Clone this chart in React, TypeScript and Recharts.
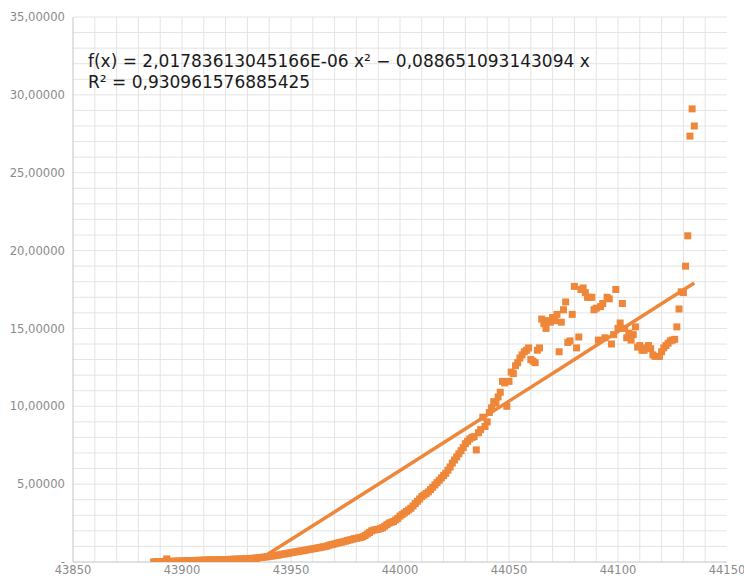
import React from "react";
import {
  ScatterChart,
  Scatter,
  XAxis,
  YAxis,
  ReferenceLine,
} from "recharts";

// First day (x) of the daily series
const START_DAY = 43887;

// Daily observed values, one per day starting at START_DAY
const seriesValues: number[] = [
  0.01, 0.01, 0.02, 0.02, 0.03, 0.03, 0.2, 0.04, 0.04, 0.05,
  0.05, 0.06, 0.06, 0.07, 0.07, 0.08, 0.08, 0.09, 0.09, 0.1,
  0.1, 0.11, 0.11, 0.12, 0.12, 0.13, 0.13, 0.14, 0.1, 0.14,
  0.15, 0.15, 0.16, 0.16, 0.12, 0.17, 0.17, 0.18, 0.18, 0.19,
  0.19, 0.2, 0.2, 0.21, 0.22, 0.23, 0.24, 0.25, 0.27, 0.29,
  0.3, 0.32, 0.34, 0.36, 0.38, 0.4, 0.42, 0.44, 0.47, 0.5,
  0.52, 0.54, 0.57, 0.6, 0.62, 0.65, 0.67, 0.7, 0.72, 0.74,
  0.77, 0.8, 0.82, 0.85, 0.87, 0.9, 0.92, 0.95, 0.98, 1.0,
  1.05, 1.1, 1.13, 1.16, 1.2, 1.24, 1.27, 1.3, 1.34, 1.38,
  1.42, 1.45, 1.5, 1.52, 1.55, 1.58, 1.62, 1.7, 1.8, 1.9,
  2.0, 2.05, 2.08, 2.1, 2.15, 2.2, 2.3, 2.4, 2.5, 2.55,
  2.6, 2.7, 2.8, 2.95, 3.05, 3.15, 3.25, 3.35, 3.45, 3.6,
  3.75, 3.9, 4.05, 4.2, 4.3, 4.4, 4.5, 4.65, 4.8, 4.95,
  5.1, 5.25, 5.4, 5.55, 5.7, 5.9, 6.1, 6.35, 6.55, 6.75,
  6.95, 7.15, 7.35, 7.6, 7.75, 7.9, 8.0, 8.05, 7.2, 8.3,
  8.5, 9.3, 8.7, 9.0, 9.6, 9.9, 10.3, 10.2, 10.6, 10.9,
  11.6, 11.5, 10.0, 11.6, 12.2, 12.1, 12.6, 12.8, 13.1, 13.3,
  13.5, 13.6, 13.75, 13.0, 12.9, 12.8, 13.6, 13.75, 15.6, 15.3,
  15.0, 15.5, 15.4, 15.7, 15.5, 15.9, 13.5, 15.4, 16.2, 16.7,
  14.1, 14.2, 15.9, 17.7, 13.75, 14.45, 17.5, 17.6, 17.3, 17.0,
  17.0, 17.0, 16.2, 16.3, 14.25, 16.4, 16.6, 14.4, 17.0, 16.9,
  14.0, 14.6, 17.5, 15.0, 15.35, 16.6, 15.0, 14.4, 14.7, 14.25,
  14.6, 15.1, 13.8, 13.9, 13.6, 13.6, 13.75, 13.9, 13.7, 13.3,
  13.2, 13.2, 13.2, 13.5, 13.75, 13.9, 14.05, 14.2, 14.25, 14.3,
  15.1, 16.25, 17.35, 17.3, 19.0, 20.95, 27.35, 29.1, 28.0,
];

// Trendline (polynomial fit)
const trendX: number[] = [43933.7, 43950, 43975, 44000, 44025, 44050, 44075, 44100, 44125, 44135];
const trendY: number[] = [0, 1.44, 3.66, 5.88, 8.11, 10.33, 12.56, 14.8, 17.03, 17.92];

const xTicks: number[] = [43850, 43900, 43950, 44000, 44050, 44100, 44150];
const yTicks: number[] = [0, 5, 10, 15, 20, 25, 30, 35];

const equationLine1 = "f(x) = 2,01783613045166E-06 x\u00B2 \u2212 0,088651093143094 x";
const equationLine2 = "R\u00B2 = 0,930961576885425";

const ORANGE = "#EF873A";
const GRID = "#e4e4e4";
const AXIS = "#c4c4c4";
const TICK = "#8a8a8a";
const FONT = "'DejaVu Sans', sans-serif";

const scatterData = seriesValues.map((y, i) => ({ x: START_DAY + i, y }));
const trendData = trendX.map((x, i) => ({ x, y: trendY[i] }));

const xMinor: number[] = [];
for (let v = 43860; v < 44150; v += 10) xMinor.push(v);
const yMinor: number[] = [];
for (let v = 1; v <= 35; v += 1) yMinor.push(v);

const fmtY = (v: number) => (v === 0 ? "-" : v.toFixed(5).replace(".", ","));

const SquareMarker = (props: any) => {
  const { cx, cy } = props;
  if (cx == null || cy == null) return <g />;
  return <rect x={cx - 3.5} y={cy - 3.5} width={7} height={7} fill={ORANGE} />;
};

const NoMarker = () => <g />;

export default function App() {
  return (
    <div style={{ position: "absolute", left: 0, top: 0, width: 744, height: 577, background: "#fff" }}>
      <ScatterChart
        width={744}
        height={577}
        margin={{ top: 17, right: 17, left: 0, bottom: 0 }}
      >
        {xMinor.map((v) => (
          <ReferenceLine key={"vx" + v} x={v} stroke={GRID} strokeWidth={1} />
        ))}
        {yMinor.map((v) => (
          <ReferenceLine key={"hy" + v} y={v} stroke={GRID} strokeWidth={1} />
        ))}
        <XAxis
          type="number"
          dataKey="x"
          domain={[43850, 44150]}
          ticks={xTicks}
          allowDataOverflow
          height={15}
          tickLine={false}
          tickSize={0}
          tickMargin={4}
          axisLine={{ stroke: AXIS }}
          tick={{ fill: TICK, fontSize: 11.5, fontFamily: FONT }}
        />
        <YAxis
          type="number"
          dataKey="y"
          domain={[0, 35]}
          ticks={yTicks}
          allowDataOverflow
          width={73}
          tickLine={false}
          tickSize={0}
          tickMargin={8}
          axisLine={{ stroke: AXIS }}
          tickFormatter={fmtY}
          tick={{ fill: TICK, fontSize: 11.6, fontFamily: FONT }}
        />
        <Scatter
          data={scatterData}
          fill={ORANGE}
          shape={SquareMarker}
          isAnimationActive={false}
        />
        <Scatter
          data={trendData}
          line={{ stroke: ORANGE, strokeWidth: 3.5 }}
          lineType="joint"
          shape={NoMarker}
          isAnimationActive={false}
        />
      </ScatterChart>
      <div
        style={{
          position: "absolute",
          left: 88,
          top: 51,
          fontFamily: FONT,
          fontSize: 17,
          lineHeight: "21px",
          color: "#1a1a1a",
          whiteSpace: "pre",
        }}
      >
        <div>{equationLine1}</div>
        <div>{equationLine2}</div>
      </div>
    </div>
  );
}
